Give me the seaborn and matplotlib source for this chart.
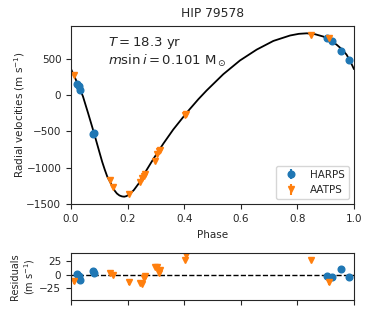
import numpy as np
import pandas as pd
import seaborn as sns
import matplotlib.pyplot as plt

# Keplerian model curve
model_phase = [0.0, 0.025, 0.042, 0.06, 0.081, 0.101, 0.11, 0.119, 0.128, 0.137,
               0.147, 0.154, 0.162, 0.171, 0.18, 0.188, 0.196, 0.205, 0.213, 0.222,
               0.24, 0.255, 0.291, 0.326, 0.361, 0.409, 0.45, 0.479, 0.538, 0.597,
               0.656, 0.715, 0.774, 0.805, 0.833, 0.862, 0.892, 0.915, 0.939, 0.958,
               0.974, 0.988, 1.0]
model_rv = [360, 145, -16, -245, -521, -797, -920, -1027, -1125, -1190,
            -1268, -1318, -1358, -1385, -1398, -1402, -1394, -1370, -1345, -1310,
            -1215, -1110, -880, -670, -475, -240, -55, 65, 290, 480,
            630, 750, 825, 848, 855, 843, 810, 762, 697, 632,
            559, 460, 360]

# HARPS measurements
harps_phase = [0.022, 0.027, 0.032, 0.078, 0.08, 0.905, 0.922, 0.955, 0.983]
harps_rv = [150, 130, 71, -530, -525, 785, 744, 615, 490]
harps_res = [2, -3, -10, 7, 3, -3, -4, 11, -5]
harps_err = [3, 3, 3, 3, 3, 3, 3, 3, 3]

# AATPS measurements
aatps_phase = [0.009, 0.136, 0.147, 0.204, 0.242, 0.25, 0.257, 0.263, 0.295, 0.304,
               0.3125, 0.314, 0.404, 0.407, 0.849, 0.912]
aatps_rv = [283, -1167, -1273, -1366, -1204, -1148, -1112, -1094, -904, -816,
            -770, -760, -271, -258, 832, 790]
aatps_res = [-12, 3, 0, -14, -15, -17, -6, -2, 15, 14, 3, 8, 28, 36, 28, -14]
aatps_err = [5] * 16

sns.set_style("ticks")
plt.rcParams['font.family'] = ['DejaVu Sans']
plt.rcParams['xtick.labelsize'] = 7.5
plt.rcParams['ytick.labelsize'] = 7.5

blue, orange = sns.color_palette("tab10")[:2]

fig = plt.figure(figsize=(3.74, 3.12), dpi=100)
ax = fig.add_axes([0.19, 0.345, 0.7565, 0.573])
ax_res = fig.add_axes([0.19, 0.0385, 0.7565, 0.1505])

model_df = pd.DataFrame({'phase': model_phase, 'rv': model_rv})
sns.lineplot(data=model_df, x='phase', y='rv', color='black', lw=1.3, ax=ax)

ax.errorbar(harps_phase, harps_rv, yerr=harps_err, fmt='o', color=blue,
            ms=4.8, label='HARPS')
ax.errorbar(aatps_phase, aatps_rv, yerr=aatps_err, fmt='v', color=orange,
            ms=5, label='AATPS')

ax.set_xlim(0, 1)
ax.set_ylim(-1508, 962)
ax.set_xticks([0.0, 0.2, 0.4, 0.6, 0.8, 1.0])
ax.set_yticks([-1500, -1000, -500, 0, 500])
ax.set_xlabel('Phase', fontsize=7.5)
ax.set_ylabel('Radial velocities (m s$^{-1}$)', fontsize=7.5)
ax.yaxis.set_label_coords(-0.157, 0.5)
ax.set_title('HIP 79578', fontsize=8.8)
ax.text(0.13, 0.90, '$T = 18.3$ yr', transform=ax.transAxes, fontsize=9.5, va='center')
ax.text(0.13, 0.80, r'$m\sin i = 0.101\ \mathrm{M}_\odot$', transform=ax.transAxes,
        fontsize=9.5, va='center')
ax.legend(loc='lower right', fontsize=7.5, frameon=True)

# residuals
ax_res.errorbar(harps_phase, harps_res, yerr=harps_err, fmt='o', color=blue, ms=4.8)
ax_res.errorbar(aatps_phase, aatps_res, yerr=aatps_err, fmt='v', color=orange, ms=5)
ax_res.axhline(0, color='black', ls='--', lw=1)
ax_res.set_xlim(0, 1)
ax_res.set_ylim(-47, 40)
ax_res.set_yticks([-25, 0, 25])
ax_res.set_xticks([0.0, 0.2, 0.4, 0.6, 0.8, 1.0])
ax_res.set_xticklabels([])
ax_res.set_ylabel('Residuals\n(m s$^{-1}$)', fontsize=7)
ax_res.yaxis.set_label_coords(-0.12, 0.5)

fig.savefig('out.png', dpi=100)
